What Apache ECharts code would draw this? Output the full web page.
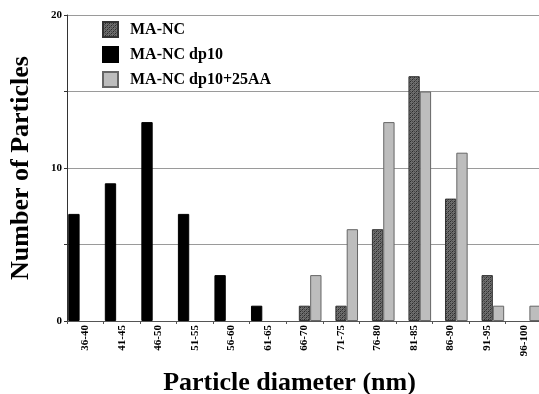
<!DOCTYPE html>
<html>
<head>
<meta charset="utf-8">
<script src="https://cdn.jsdelivr.net/npm/echarts@6/dist/echarts.min.js"></script>
<style>
html,body{margin:0;padding:0;background:#fff;}
#c{width:539px;height:394px;}
</style>
</head>
<body>
<div id="c"></div>
<script>
var categories = ['36-40','41-45','46-50','51-55','56-60','61-65','66-70','71-75','76-80','81-85','86-90','91-95','96-100'];
var maNC       = [0,0,0,0,0,0,1,1,6,16,8,3,0];
var maNCdp10   = [7,9,13,7,3,1,0,0,0,0,0,0,0];
var maNCdp25AA = [0,0,0,0,0,0,3,6,13,15,11,1,1];
var yTicks = [0,10,20];

function nz(arr){ return arr.map(function(v){ return v === 0 ? null : v; }); }

// hatched pattern
var pc = document.createElement('canvas');
pc.width = 4; pc.height = 4;
var g = pc.getContext('2d');
g.fillStyle = '#6e6e6e';
g.fillRect(0,0,4,4);
g.fillStyle = '#2a2a2a';
for (var i=0;i<4;i++){ g.fillRect(i,3-i,1,1); }
g.fillStyle = '#4a4a4a';
for (var j=0;j<4;j++){ g.fillRect(j,(j+1)%4,1,1); }
var hatch = {image: pc, repeat: 'repeat'};

var font = '"Liberation Serif","Times New Roman",serif';
var chart = echarts.init(document.getElementById('c'));
chart.setOption({
  animation: false,
  backgroundColor: '#fff',
  grid: {left: 67, right: -3, top: 15, bottom: 73, containLabel: false, outerBoundsMode: 'none'},
  legend: {
    orient: 'vertical', left: 97, top: 16,
    itemWidth: 15, itemHeight: 15, itemGap: 8,
    icon: 'rect',
    data: ['MA-NC','MA-NC dp10','MA-NC dp10+25AA'],
    textStyle: {fontFamily: font, fontWeight: 'bold', fontSize: 16, color: '#000', padding: [0,0,0,7]}
  },
  xAxis: {
    type: 'category', data: categories,
    axisLine: {lineStyle: {color: '#555', width: 1}},
    axisTick: {show: true, length: 3, lineStyle: {color: '#555'}},
    axisLabel: {rotate: 90, fontFamily: font, fontWeight: 'bold', fontSize: 11, color: '#000', margin: 4},
    name: 'Particle diameter (nm)', nameLocation: 'middle', nameGap: 49,
    nameTextStyle: {fontFamily: font, fontWeight: 'bold', fontSize: 26, color: '#000', padding: [0,30,0,0]}
  },
  yAxis: {
    type: 'value', min: 0, max: 20, interval: 5,
    axisLine: {show: true, lineStyle: {color: '#333', width: 1}},
    axisTick: {show: true, length: 3, lineStyle: {color: '#333'}},
    axisLabel: {fontFamily: font, fontWeight: 'bold', fontSize: 11, color: '#000', margin: 5,
      formatter: function(v){ return yTicks.indexOf(v) >= 0 ? String(v) : ''; }},
    splitLine: {show: true, lineStyle: {color: '#9a9a9a', width: 1}},
    name: 'Number of Particles', nameLocation: 'middle', nameGap: 33,
    nameTextStyle: {fontFamily: font, fontWeight: 'bold', fontSize: 26, color: '#000'}
  },
  series: [
    {name: 'MA-NC dp10', type: 'bar', data: nz(maNCdp10), barGap: '0%', barCategoryGap: '7%',
     itemStyle: {color: '#000', borderColor: '#000', borderWidth: 1}},
    {name: 'MA-NC', type: 'bar', data: nz(maNC), barGap: '0%', barCategoryGap: '7%',
     itemStyle: {color: hatch, borderColor: '#333', borderWidth: 1}},
    {name: 'MA-NC dp10+25AA', type: 'bar', data: nz(maNCdp25AA), barGap: '0%', barCategoryGap: '7%',
     itemStyle: {color: '#bdbdbd', borderColor: '#666', borderWidth: 1}}
  ]
});
</script>
</body>
</html>
